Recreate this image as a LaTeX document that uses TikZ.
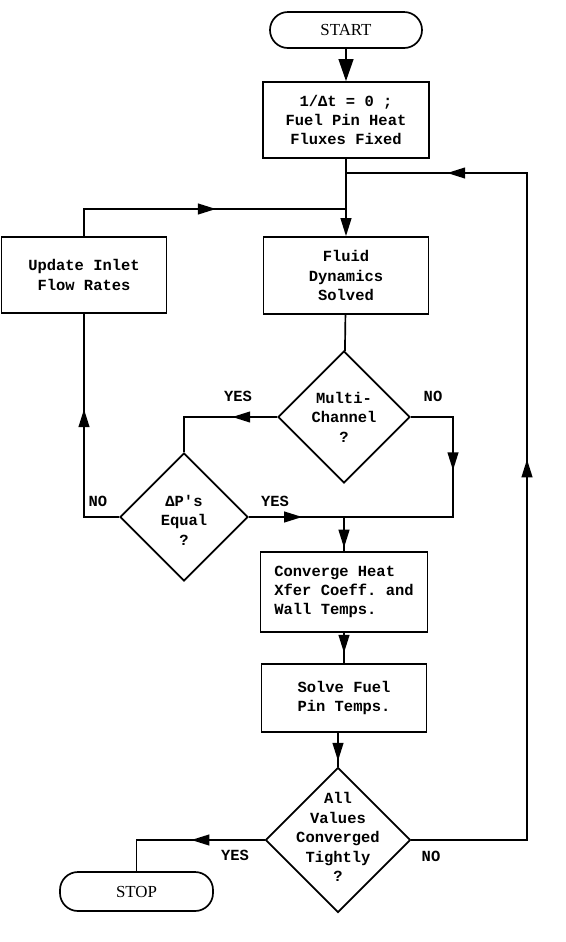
\documentclass[tikz,border=0pt]{standalone}
\usepackage{fontspec}
\setmainfont{Liberation Serif}
\setmonofont{Liberation Mono}
\usetikzlibrary{shapes.geometric,arrows.meta,decorations.markings}

\tikzset{
    flowtext/.style={font=\ttfamily\bfseries\fontsize{11}{13.8}\selectfont},
    box/.style={draw, flowtext, minimum width=4.125cm, minimum height=1.9cm, align=center},
    decision/.style={draw, diamond, inner sep=0pt},
    terminal/.style={draw, rounded corners=0.45cm, minimum width=3.8cm, minimum height=0.9cm,
        font=\fontsize{12}{14}\selectfont},
    answer/.style={flowtext},
    arrowat/.style={postaction={decorate, decoration={markings,
        mark=at position #1 with {\arrow{>}}}}}
}

\begin{document}
\begin{tikzpicture}[x=0.025cm, y=-0.025cm, line width=1.2pt,
                    >={Triangle[length=0.45cm,width=0.27cm]}]
    \useasboundingbox (0,0) rectangle (566,942);

    % start and setup
    \node[terminal] (start) at (346,30) {START};
    \node[box, minimum width=4.15cm] (init) at (346,120) {1/Δt = 0 ;\\Fuel Pin Heat\\Fluxes Fixed};

    % fluid loop
    \node[box, minimum height=1.925cm] (fluid) at (346,275.5) {Fluid\\Dynamics\\Solved};
    \node[box, align=left] (update) at (84,275) {Update Inlet\\\ Flow Rates};
    \node[decision, minimum size=3.3cm] (multi) at (344,417) {};
    \node[flowtext, align=center] (multi-t) at (multi) {Multi-\\Channel\\?};
    \node[decision, minimum size=3.2cm] (dp) at (184,517) {};
    \node[flowtext, align=center] (dp-t) at (184,520) {ΔP's\\Equal\\?};

    % heat transfer and convergence
    \node[box, align=left, minimum width=4.175cm, minimum height=2cm] (conv) at (344,592) {Converge Heat\\Xfer Coeff. and\\Wall Temps.};
    \node[box, minimum height=1.7cm] (solve) at (344,698) {Solve Fuel\\Pin Temps.};
    \node[decision, minimum size=3.625cm] (allq) at (338,840) {};
    \node[flowtext, align=center] (allq-t) at (338,837) {All\\Values\\Converged\\Tightly\\?};
    \node[terminal, minimum width=3.825cm, minimum height=0.975cm] (stop) at (136.5,891.5) {STOP};

    % answers
    \node[answer] (multi-yes) at (238,396) {YES};
    \node[answer] (multi-no) at (433,396) {NO};
    \node[answer] (dp-no) at (98,501) {NO};
    \node[answer] (dp-yes) at (275,501) {YES};
    \node[answer] (allq-yes) at (235,855) {YES};
    \node[answer] (allq-no) at (431,856) {NO};

    % junctions
    \coordinate (j0) at (init.south |- 0,173);
    \coordinate (j1) at (init.south |- 0,209);
    \coordinate (j2) at (conv.north |- dp.east);
    \coordinate (mergeR) at (453,0 |- dp.east);
    \coordinate (rloop) at (527,173);

    % connectors
    \draw[-{Triangle[length=0.55cm,width=0.37cm]}] (start) -- (init);
    \draw[->] (init) -- (fluid);
    \draw[arrowat=0.55] (update.north) |- (j1);
    \draw (fluid) -- (multi);
    \draw[arrowat=0.35] (multi.west) -| (dp.north);
    \draw[arrowat=0.38] (multi.east) -| (mergeR) -- (j2);
    \draw[arrowat=0.56] (dp.east) -- (j2);
    \draw[arrowat=0.6] (dp.west) -| (update.south);
    \draw[arrowat=0.9] (j2) -- (conv);
    \draw[arrowat=0.66] (conv) -- (solve);
    \draw[arrowat=0.83] (solve.south -| allq.north) -- (allq.north);
    \draw[arrowat=0.46] (allq.west) -| (stop.north);
    \draw[arrowat=0.515, arrowat=0.895] (allq.east) -| (rloop) -- (j0);
\end{tikzpicture}
\end{document}
